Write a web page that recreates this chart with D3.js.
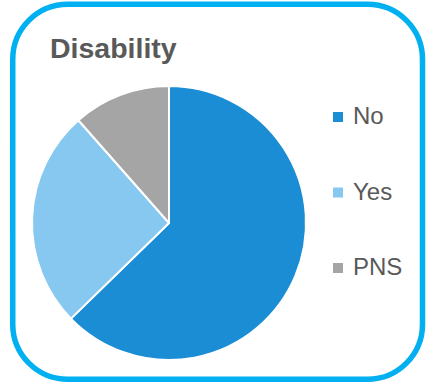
<!DOCTYPE html>
<html><head><meta charset="utf-8">
<script src="https://cdn.jsdelivr.net/npm/d3@7"></script>
<style>body{margin:0;background:#fff;}svg{display:block;}</style>
</head><body>
<script>
const categories = ["No", "Yes", "PNS"];
const values = [62.7, 25.8, 11.5];
const colors = ["#1A8DD5", "#87C8F0", "#A5A5A5"];
const title = "Disability";

const W = 427, H = 382;
const FONT = "'Liberation Sans', Arial, Helvetica, sans-serif";
const svg = d3.select("body").append("svg").attr("width", W).attr("height", H);

svg.append("rect").attr("x", 12.75).attr("y", 4.25).attr("width", 409.75).attr("height", 375)
  .attr("rx", 55).attr("ry", 55).attr("fill", "#fff").attr("stroke", "#00B0F0").attr("stroke-width", 5.5);

svg.append("text").attr("x", 50).attr("y", 58).text(title)
  .style("font-family", FONT).attr("font-weight", "bold")
  .attr("font-size", 28.5).attr("fill", "#595959");

const color = d3.scaleOrdinal().domain(categories).range(colors);
const pie = d3.pie().sort(null).value(d => d.v);
const data = categories.map((c, i) => ({c, v: values[i]}));
const arc = d3.arc().innerRadius(0).outerRadius(137);
const g = svg.append("g").attr("transform", "translate(169,223)");
g.selectAll("path").data(pie(data)).join("path")
  .attr("d", arc).attr("fill", d => color(d.data.c))
  .attr("stroke", "#fff").attr("stroke-width", 2).attr("stroke-linejoin", "round");

const ly = d3.scalePoint().domain(categories).range([124, 275]);
const lg = svg.append("g");
categories.forEach(c => {
  lg.append("rect").attr("x", 333).attr("y", ly(c) - 12).attr("width", 10).attr("height", 10).attr("fill", color(c));
  lg.append("text").attr("x", 353).attr("y", ly(c)).text(c)
    .style("font-family", FONT).attr("font-size", 24).attr("fill", "#595959");
});
</script>
</body></html>
